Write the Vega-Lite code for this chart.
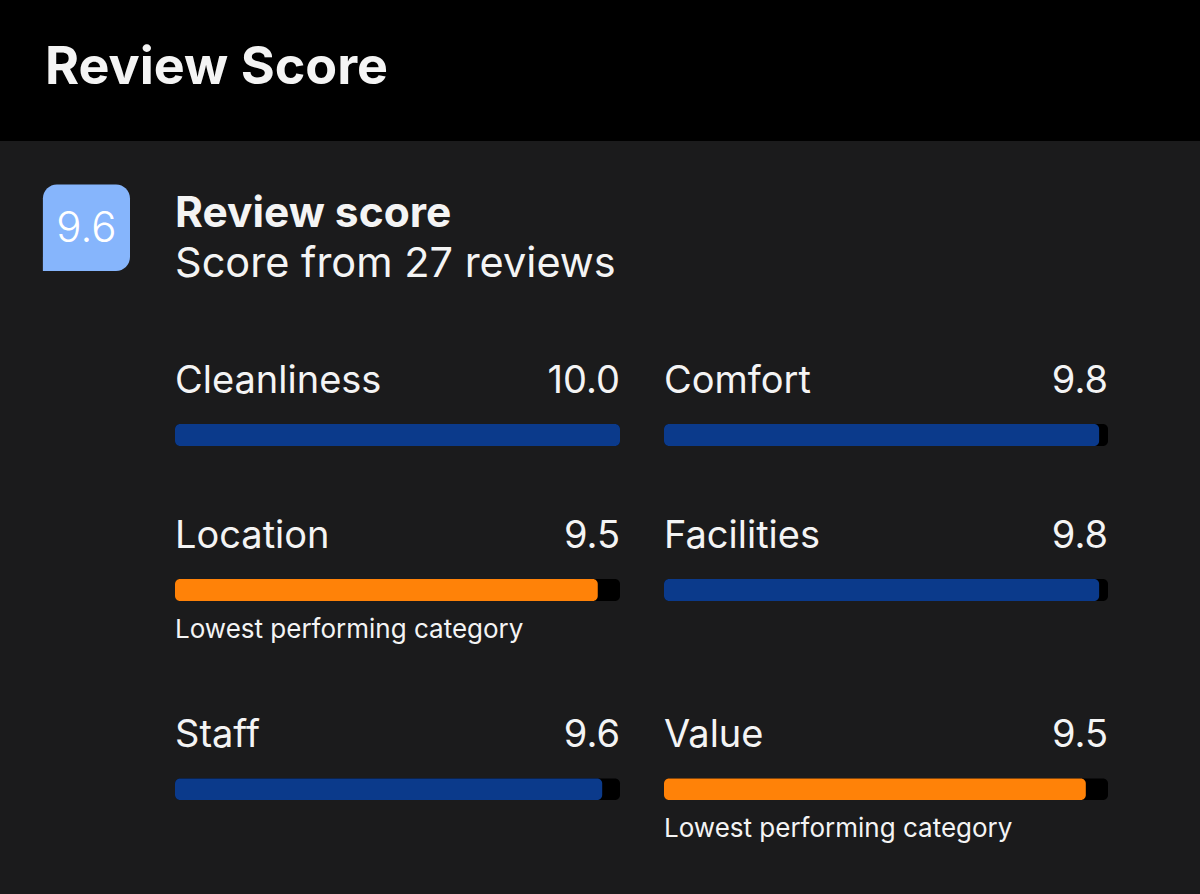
{
  "$schema": "https://vega.github.io/schema/vega-lite/v6.json",
  "padding": 0,
  "background": "#1b1b1c",
  "spacing": 0,
  "config": {"view": {"stroke": null}, "axis": {"disable": true}, "text": {"font": "Inter", "color": "#f4f4f4"}},
  "datasets": {
    "header": [{"heading": "Review Score"}],
    "summary": [{"title": "Review score", "overall": 9.6, "reviews": 27, "subtitle": "Score from 27 reviews"}],
    "scores": [
      {"category": "Cleanliness", "score": 10.0, "column": "left", "row": 1, "status": "normal"},
      {"category": "Comfort", "score": 9.8, "column": "right", "row": 1, "status": "normal"},
      {"category": "Location", "score": 9.5, "column": "left", "row": 2, "status": "lowest"},
      {"category": "Facilities", "score": 9.8, "column": "right", "row": 2, "status": "normal"},
      {"category": "Staff", "score": 9.6, "column": "left", "row": 3, "status": "normal"},
      {"category": "Value", "score": 9.5, "column": "right", "row": 3, "status": "lowest"}
    ]
  },
  "vconcat": [
    {
      "width": 1200, "height": 141,
      "view": {"fill": "#000000", "stroke": null},
      "data": {"name": "header"},
      "mark": {"type": "text", "align": "left", "baseline": "alphabetic", "fontSize": 52, "fontWeight": "bold"},
      "encoding": {
        "x": {"datum": -2.921, "type": "quantitative", "scale": {"domain": [-3.9326, 23.0337], "nice": false, "zero": false}, "axis": null},
        "y": {"datum": 84, "type": "quantitative", "scale": {"domain": [0, 141], "reverse": true, "nice": false, "zero": false}, "axis": null},
        "text": {"field": "heading", "type": "nominal"}
      }
    },
    {
      "width": 1200, "height": 199,
      "data": {"name": "summary"},
      "layer": [
        {
          "mark": {"type": "rect", "color": "#86b5fc", "cornerRadiusTopLeft": 14, "cornerRadiusTopRight": 14, "cornerRadiusBottomRight": 14, "cornerRadiusBottomLeft": 0},
          "encoding": {
            "x": {"datum": -2.9685, "type": "quantitative", "scale": {"domain": [-3.9326, 23.0337], "nice": false, "zero": false}, "axis": null},
            "x2": {"datum": -1.0112},
            "y": {"datum": 43.5, "type": "quantitative", "scale": {"domain": [0, 199], "reverse": true, "nice": false, "zero": false}, "axis": null},
            "y2": {"datum": 130}
          }
        },
        {
          "mark": {"type": "text", "align": "center", "baseline": "alphabetic", "fontSize": 42, "fontWeight": 300, "color": "#ffffff"},
          "encoding": {
            "x": {"datum": -1.9888, "type": "quantitative", "axis": null},
            "y": {"datum": 100.5, "type": "quantitative", "axis": null},
            "text": {"field": "overall", "type": "quantitative", "format": ".1f"}
          }
        },
        {
          "mark": {"type": "text", "align": "left", "baseline": "alphabetic", "fontSize": 42.5, "fontWeight": "bold"},
          "encoding": {
            "x": {"datum": 0, "type": "quantitative", "axis": null},
            "y": {"datum": 86, "type": "quantitative", "axis": null},
            "text": {"field": "title", "type": "nominal"}
          }
        },
        {
          "mark": {"type": "text", "align": "left", "baseline": "alphabetic", "fontSize": 41.5},
          "encoding": {
            "x": {"datum": 0, "type": "quantitative", "axis": null},
            "y": {"datum": 136, "type": "quantitative", "axis": null},
            "text": {"field": "subtitle", "type": "nominal"}
          }
        }
      ]
    },
    {
      "width": 1200, "height": 155,
      "data": {"name": "scores"},
      "transform": [{"filter": "datum.row == 1"}],
      "resolve": {"scale": {"x": "independent"}},
      "layer": [
        {
          "transform": [{"filter": "datum.column == 'left'"}],
          "layer": [
            {"mark": {"type": "rect", "color": "#000000", "cornerRadius": 5},
             "encoding": {"x": {"datum": 0, "type": "quantitative", "scale": {"domain": [-3.9326, 23.0337], "nice": false, "zero": false}, "axis": null}, "x2": {"datum": 10},
               "y": {"datum": 84, "type": "quantitative", "scale": {"domain": [0, 155], "reverse": true, "nice": false, "zero": false}, "axis": null}, "y2": {"datum": 106}}},
            {"mark": {"type": "rect", "cornerRadius": 5},
             "encoding": {"x": {"field": "score", "type": "quantitative", "axis": null}, "x2": {"datum": 0},
               "y": {"datum": 84, "type": "quantitative", "axis": null}, "y2": {"datum": 106},
               "color": {"field": "status", "type": "nominal", "scale": {"domain": ["normal", "lowest"], "range": ["#0b3a8b", "#ff8208"]}, "legend": null}}},
            {"mark": {"type": "text", "align": "left", "baseline": "alphabetic", "fontSize": 38},
             "encoding": {"x": {"datum": 0, "type": "quantitative", "axis": null},
               "y": {"datum": 52.5, "type": "quantitative", "axis": null}, "text": {"field": "category", "type": "nominal"}}},
            {"mark": {"type": "text", "align": "right", "baseline": "alphabetic", "fontSize": 38},
             "encoding": {"x": {"datum": 10, "type": "quantitative", "axis": null},
               "y": {"datum": 52.5, "type": "quantitative", "axis": null}, "text": {"field": "score", "type": "quantitative", "format": ".1f"}}}
          ]
        },
        {
          "transform": [{"filter": "datum.column == 'right'"}],
          "layer": [
            {"mark": {"type": "rect", "color": "#000000", "cornerRadius": 5},
             "encoding": {"x": {"datum": 0, "type": "quantitative", "scale": {"domain": [-14.955, 12.072], "nice": false, "zero": false}, "axis": null}, "x2": {"datum": 10},
               "y": {"datum": 84, "type": "quantitative", "axis": null}, "y2": {"datum": 106}}},
            {"mark": {"type": "rect", "cornerRadius": 5},
             "encoding": {"x": {"field": "score", "type": "quantitative", "axis": null}, "x2": {"datum": 0},
               "y": {"datum": 84, "type": "quantitative", "axis": null}, "y2": {"datum": 106},
               "color": {"field": "status", "type": "nominal", "legend": null}}},
            {"mark": {"type": "text", "align": "left", "baseline": "alphabetic", "fontSize": 38},
             "encoding": {"x": {"datum": 0, "type": "quantitative", "axis": null},
               "y": {"datum": 52.5, "type": "quantitative", "axis": null}, "text": {"field": "category", "type": "nominal"}}},
            {"mark": {"type": "text", "align": "right", "baseline": "alphabetic", "fontSize": 38},
             "encoding": {"x": {"datum": 10, "type": "quantitative", "axis": null},
               "y": {"datum": 52.5, "type": "quantitative", "axis": null}, "text": {"field": "score", "type": "quantitative", "format": ".1f"}}}
          ]
        }
      ]
    },
    {
      "width": 1200, "height": 200,
      "data": {"name": "scores"},
      "transform": [{"filter": "datum.row == 2"}],
      "resolve": {"scale": {"x": "independent"}},
      "layer": [
        {
          "transform": [{"filter": "datum.column == 'left'"}],
          "layer": [
            {"mark": {"type": "rect", "color": "#000000", "cornerRadius": 5},
             "encoding": {"x": {"datum": 0, "type": "quantitative", "scale": {"domain": [-3.9326, 23.0337], "nice": false, "zero": false}, "axis": null}, "x2": {"datum": 10},
               "y": {"datum": 84, "type": "quantitative", "scale": {"domain": [0, 200], "reverse": true, "nice": false, "zero": false}, "axis": null}, "y2": {"datum": 106}}},
            {"mark": {"type": "rect", "cornerRadius": 5},
             "encoding": {"x": {"field": "score", "type": "quantitative", "axis": null}, "x2": {"datum": 0},
               "y": {"datum": 84, "type": "quantitative", "axis": null}, "y2": {"datum": 106},
               "color": {"field": "status", "type": "nominal", "scale": {"domain": ["normal", "lowest"], "range": ["#0b3a8b", "#ff8208"]}, "legend": null}}},
            {"mark": {"type": "text", "align": "left", "baseline": "alphabetic", "fontSize": 38},
             "encoding": {"x": {"datum": 0, "type": "quantitative", "axis": null},
               "y": {"datum": 53, "type": "quantitative", "axis": null}, "text": {"field": "category", "type": "nominal"}}},
            {"mark": {"type": "text", "align": "right", "baseline": "alphabetic", "fontSize": 38},
             "encoding": {"x": {"datum": 10, "type": "quantitative", "axis": null},
               "y": {"datum": 53, "type": "quantitative", "axis": null}, "text": {"field": "score", "type": "quantitative", "format": ".1f"}}},
            {"transform": [{"filter": "datum.status == 'lowest'"}],
             "mark": {"type": "text", "align": "left", "baseline": "alphabetic", "fontSize": 26, "text": "Lowest performing category"},
             "encoding": {"x": {"datum": 0, "type": "quantitative", "axis": null},
               "y": {"datum": 143, "type": "quantitative", "axis": null}}}
          ]
        },
        {
          "transform": [{"filter": "datum.column == 'right'"}],
          "layer": [
            {"mark": {"type": "rect", "color": "#000000", "cornerRadius": 5},
             "encoding": {"x": {"datum": 0, "type": "quantitative", "scale": {"domain": [-14.955, 12.072], "nice": false, "zero": false}, "axis": null}, "x2": {"datum": 10},
               "y": {"datum": 84, "type": "quantitative", "axis": null}, "y2": {"datum": 106}}},
            {"mark": {"type": "rect", "cornerRadius": 5},
             "encoding": {"x": {"field": "score", "type": "quantitative", "axis": null}, "x2": {"datum": 0},
               "y": {"datum": 84, "type": "quantitative", "axis": null}, "y2": {"datum": 106},
               "color": {"field": "status", "type": "nominal", "legend": null}}},
            {"mark": {"type": "text", "align": "left", "baseline": "alphabetic", "fontSize": 38},
             "encoding": {"x": {"datum": 0, "type": "quantitative", "axis": null},
               "y": {"datum": 53, "type": "quantitative", "axis": null}, "text": {"field": "category", "type": "nominal"}}},
            {"mark": {"type": "text", "align": "right", "baseline": "alphabetic", "fontSize": 38},
             "encoding": {"x": {"datum": 10, "type": "quantitative", "axis": null},
               "y": {"datum": 53, "type": "quantitative", "axis": null}, "text": {"field": "score", "type": "quantitative", "format": ".1f"}}},
            {"transform": [{"filter": "datum.status == 'lowest'"}],
             "mark": {"type": "text", "align": "left", "baseline": "alphabetic", "fontSize": 26, "text": "Lowest performing category"},
             "encoding": {"x": {"datum": 0, "type": "quantitative", "axis": null},
               "y": {"datum": 143, "type": "quantitative", "axis": null}}}
          ]
        }
      ]
    },
    {
      "width": 1200, "height": 199,
      "data": {"name": "scores"},
      "transform": [{"filter": "datum.row == 3"}],
      "resolve": {"scale": {"x": "independent"}},
      "layer": [
        {
          "transform": [{"filter": "datum.column == 'left'"}],
          "layer": [
            {"mark": {"type": "rect", "color": "#000000", "cornerRadius": 5},
             "encoding": {"x": {"datum": 0, "type": "quantitative", "scale": {"domain": [-3.9326, 23.0337], "nice": false, "zero": false}, "axis": null}, "x2": {"datum": 10},
               "y": {"datum": 83.5, "type": "quantitative", "scale": {"domain": [0, 199], "reverse": true, "nice": false, "zero": false}, "axis": null}, "y2": {"datum": 105}}},
            {"mark": {"type": "rect", "cornerRadius": 5},
             "encoding": {"x": {"field": "score", "type": "quantitative", "axis": null}, "x2": {"datum": 0},
               "y": {"datum": 83.5, "type": "quantitative", "axis": null}, "y2": {"datum": 105},
               "color": {"field": "status", "type": "nominal", "scale": {"domain": ["normal", "lowest"], "range": ["#0b3a8b", "#ff8208"]}, "legend": null}}},
            {"mark": {"type": "text", "align": "left", "baseline": "alphabetic", "fontSize": 38},
             "encoding": {"x": {"datum": 0, "type": "quantitative", "axis": null},
               "y": {"datum": 52, "type": "quantitative", "axis": null}, "text": {"field": "category", "type": "nominal"}}},
            {"mark": {"type": "text", "align": "right", "baseline": "alphabetic", "fontSize": 38},
             "encoding": {"x": {"datum": 10, "type": "quantitative", "axis": null},
               "y": {"datum": 52, "type": "quantitative", "axis": null}, "text": {"field": "score", "type": "quantitative", "format": ".1f"}}},
            {"transform": [{"filter": "datum.status == 'lowest'"}],
             "mark": {"type": "text", "align": "left", "baseline": "alphabetic", "fontSize": 26, "text": "Lowest performing category"},
             "encoding": {"x": {"datum": 0, "type": "quantitative", "axis": null},
               "y": {"datum": 142, "type": "quantitative", "axis": null}}}
          ]
        },
        {
          "transform": [{"filter": "datum.column == 'right'"}],
          "layer": [
            {"mark": {"type": "rect", "color": "#000000", "cornerRadius": 5},
             "encoding": {"x": {"datum": 0, "type": "quantitative", "scale": {"domain": [-14.955, 12.072], "nice": false, "zero": false}, "axis": null}, "x2": {"datum": 10},
               "y": {"datum": 83.5, "type": "quantitative", "axis": null}, "y2": {"datum": 105}}},
            {"mark": {"type": "rect", "cornerRadius": 5},
             "encoding": {"x": {"field": "score", "type": "quantitative", "axis": null}, "x2": {"datum": 0},
               "y": {"datum": 83.5, "type": "quantitative", "axis": null}, "y2": {"datum": 105},
               "color": {"field": "status", "type": "nominal", "legend": null}}},
            {"mark": {"type": "text", "align": "left", "baseline": "alphabetic", "fontSize": 38},
             "encoding": {"x": {"datum": 0, "type": "quantitative", "axis": null},
               "y": {"datum": 52, "type": "quantitative", "axis": null}, "text": {"field": "category", "type": "nominal"}}},
            {"mark": {"type": "text", "align": "right", "baseline": "alphabetic", "fontSize": 38},
             "encoding": {"x": {"datum": 10, "type": "quantitative", "axis": null},
               "y": {"datum": 52, "type": "quantitative", "axis": null}, "text": {"field": "score", "type": "quantitative", "format": ".1f"}}},
            {"transform": [{"filter": "datum.status == 'lowest'"}],
             "mark": {"type": "text", "align": "left", "baseline": "alphabetic", "fontSize": 26, "text": "Lowest performing category"},
             "encoding": {"x": {"datum": 0, "type": "quantitative", "axis": null},
               "y": {"datum": 142, "type": "quantitative", "axis": null}}}
          ]
        }
      ]
    }
  ]
}
